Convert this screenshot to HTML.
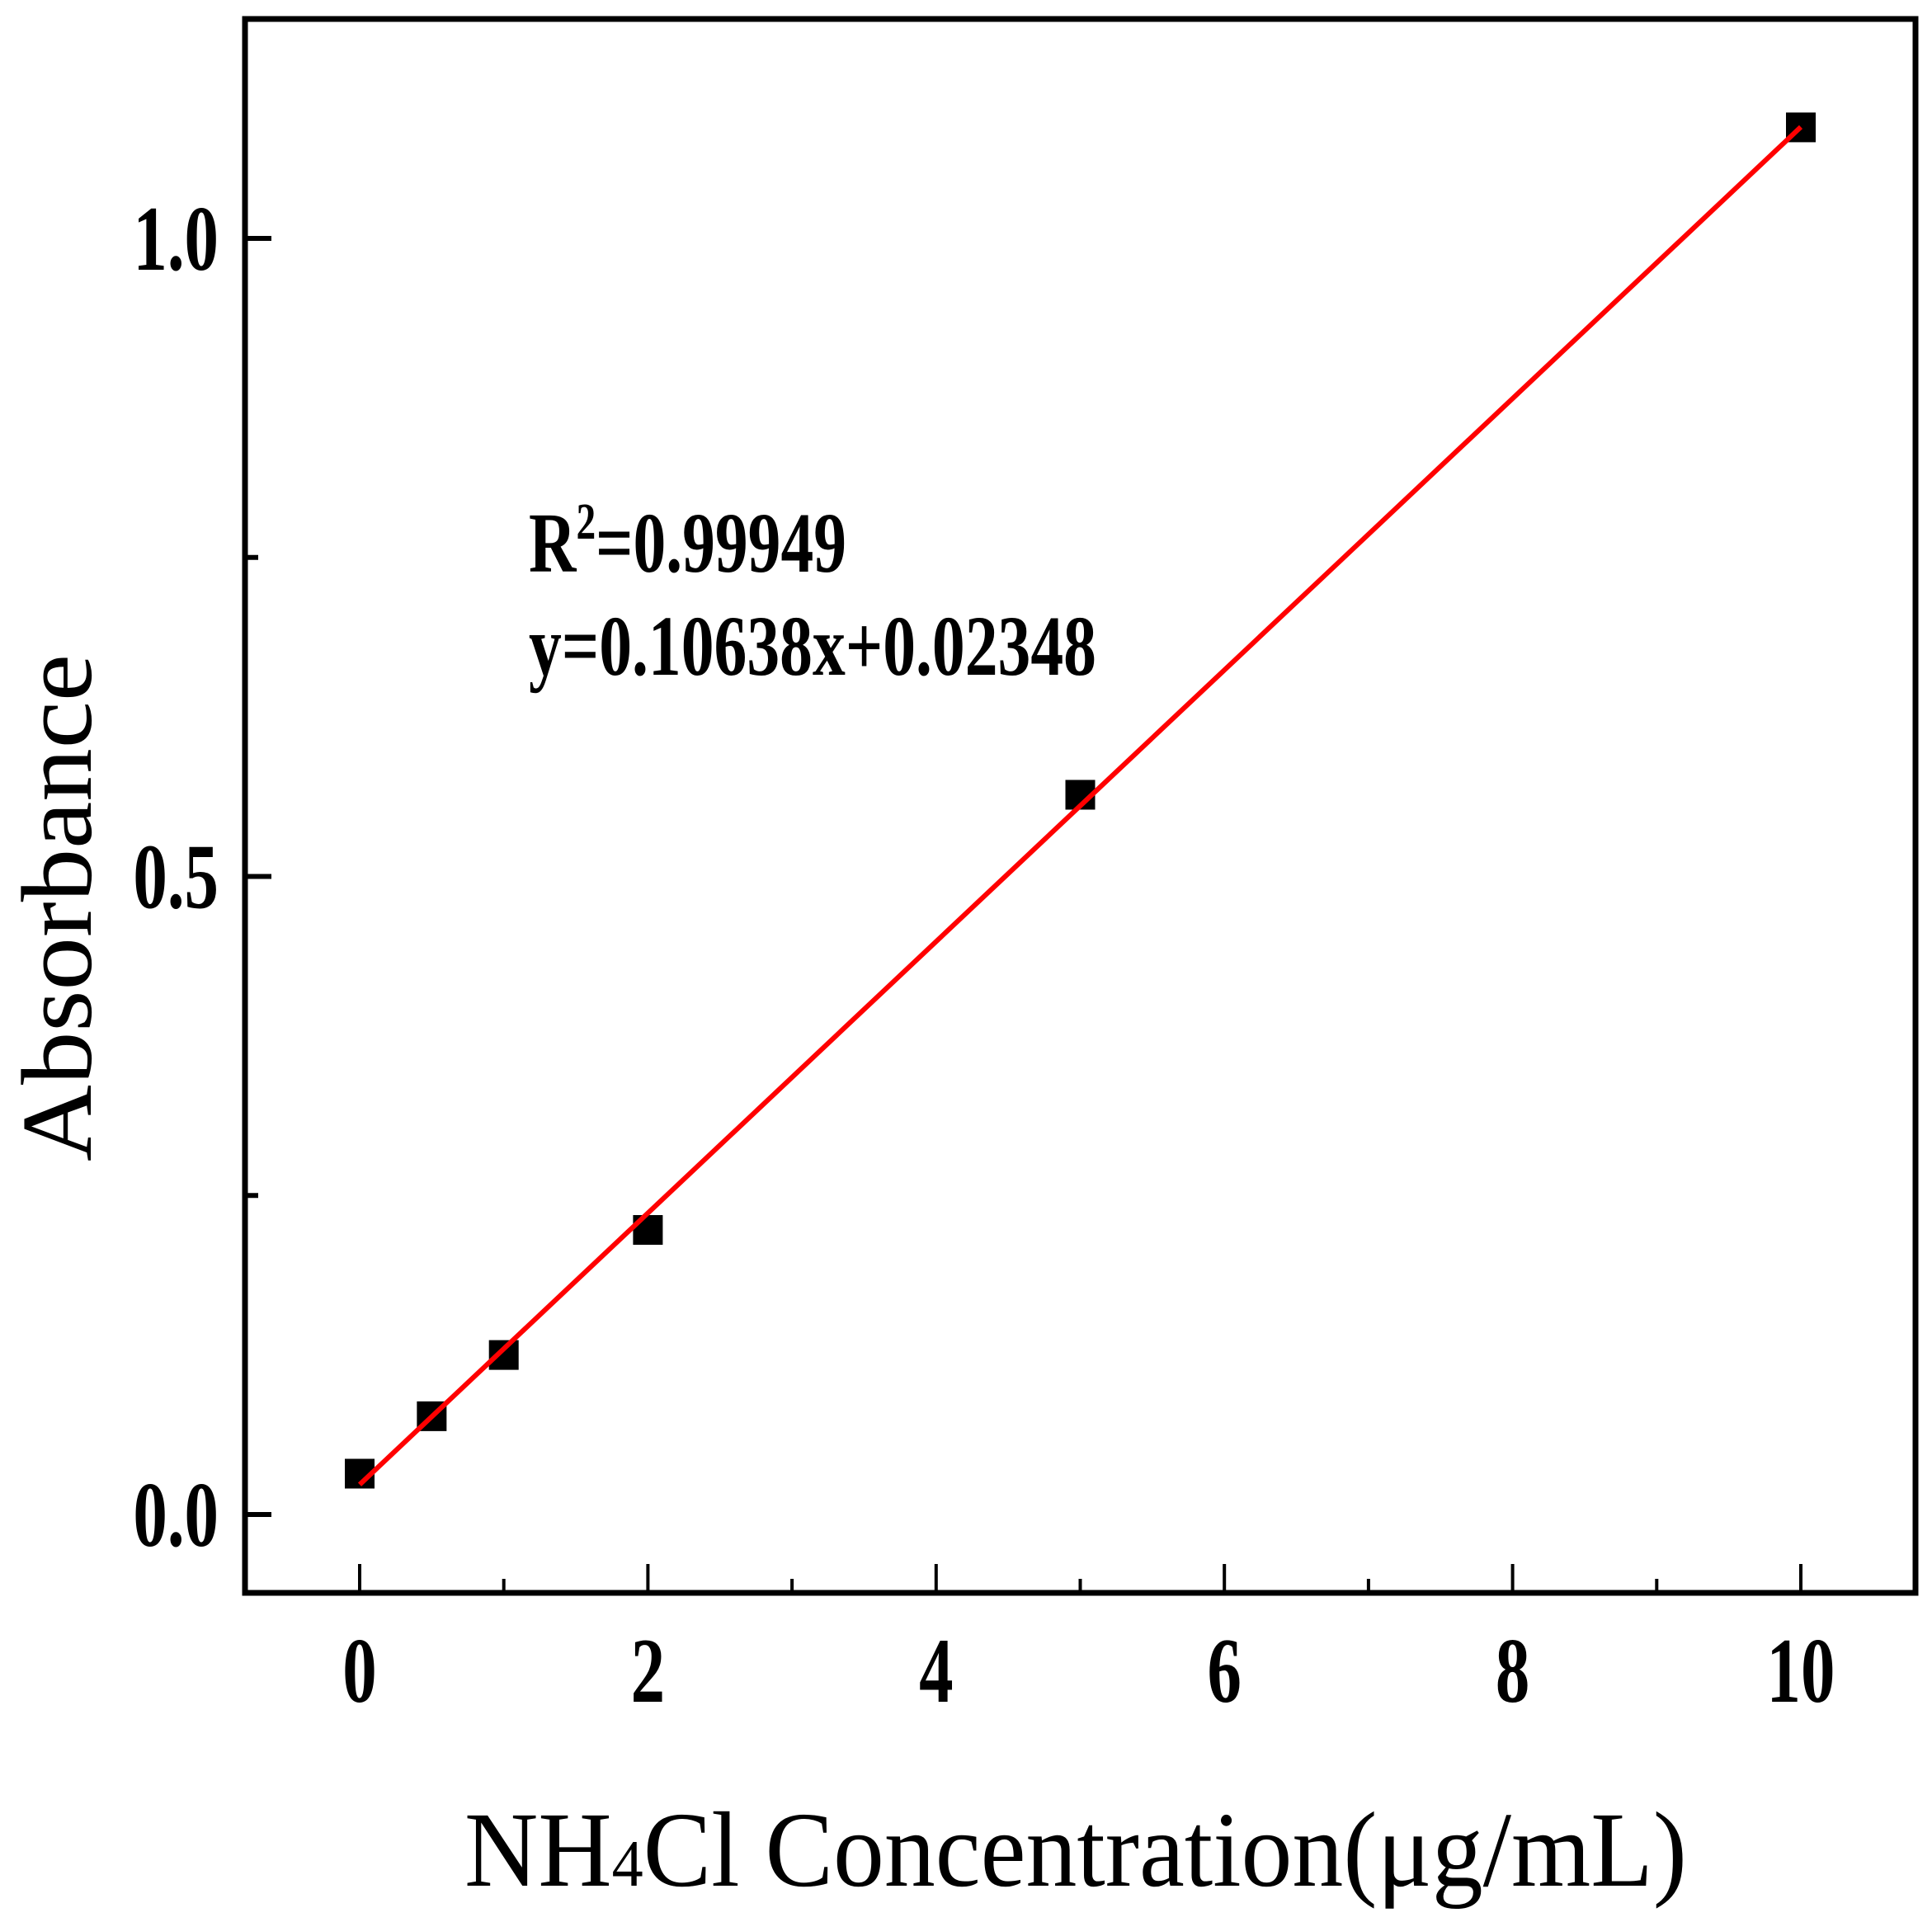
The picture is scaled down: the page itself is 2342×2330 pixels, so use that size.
<!DOCTYPE html>
<html><head><meta charset="utf-8"><style>html,body{margin:0;padding:0;background:#fff}svg{display:block}</style></head>
<body>
<svg id="chart" width="2342" height="2330" viewBox="0 0 2342 2330" xmlns="http://www.w3.org/2000/svg">
<rect x="0" y="0" width="2342" height="2330" fill="#fff"/>
<g id="plot"></g>
</svg>
<script>
const concentrations = [0, 0.5, 1, 2, 5, 10];
const absorbance = [0.032, 0.077, 0.125, 0.223, 0.564, 1.087];
const fitSlope = 0.10638;
const fitIntercept = 0.02348;
const xTicks = [0, 2, 4, 6, 8, 10];
const xTickLabels = ["0", "2", "4", "6", "8", "10"];
const xMinorTicks = [1, 3, 5, 7, 9];
const yTicks = [0, 0.5, 1.0];
const yTickLabels = ["0.0", "0.5", "1.0"];
const yMinorTicks = [0.25, 0.75];

const NS = "http://www.w3.org/2000/svg";
const L = 297, R = 2322, T = 23, B = 1931;
function xs(v){ return 436 + v * (2183 - 436) / 10; }
function ys(v){ return 1836 - v * 1547; }
const g = document.getElementById('plot');
function mk(tag, attrs){ const e = document.createElementNS(NS, tag); for (const k in attrs) e.setAttribute(k, attrs[k]); g.appendChild(e); return e; }

const frame = mk('rect', {x:L, y:T, width:R-L, height:B-T, fill:'none', stroke:'#000', 'stroke-width':7});



xTicks.forEach((v,i)=>{
  const t = mk('line', {x1:xs(v), x2:xs(v), y1:B, y2:B-35, stroke:'#000', 'stroke-width':4});
  
  
  const lb = mk('text', {x:xs(v), y:2063, 'text-anchor':'middle', 'font-family':'Liberation Serif, serif', 'font-weight':'bold', 'font-size':112, transform:`translate(${xs(v)},0) scale(0.74,1) translate(${-xs(v)},0)`});
  lb.textContent = xTickLabels[i];
  
  
});
xMinorTicks.forEach(v=>{
  const t = mk('line', {x1:xs(v), x2:xs(v), y1:B, y2:B-17, stroke:'#000', 'stroke-width':4});
  
  
});
yTicks.forEach((v,i)=>{
  const t = mk('line', {x1:L, x2:L+32, y1:ys(v), y2:ys(v), stroke:'#000', 'stroke-width':6});
  
  
  const lb = mk('text', {x:265, y:ys(v)+38, 'text-anchor':'end', 'font-family':'Liberation Serif, serif', 'font-weight':'bold', 'font-size':112, transform:`translate(265,0) scale(0.74,1) translate(-265,0)`});
  lb.textContent = yTickLabels[i];
  
  
});
yMinorTicks.forEach(v=>{
  const t = mk('line', {x1:L, x2:L+16, y1:ys(v), y2:ys(v), stroke:'#000', 'stroke-width':6});
  
  
});

concentrations.forEach((c,i)=>{
  const s = 36;
  const p = mk('rect', {x:xs(c)-s/2, y:ys(absorbance[i])-s/2, width:s, height:s, fill:'#000'});
  
  
});
const x0 = concentrations[0], x1 = concentrations[concentrations.length-1];
const fit = mk('line', {x1:xs(x0), y1:ys(fitSlope*x0+fitIntercept), x2:xs(x1), y2:ys(fitSlope*x1+fitIntercept), stroke:'#ff0000', 'stroke-width':6});



const a1 = mk('text', {x:641, y:693, 'font-family':'Liberation Serif, serif', 'font-weight':'bold', 'font-size':104, textLength:385, lengthAdjust:'spacingAndGlyphs'});
a1.innerHTML = 'R<tspan font-size="62" dy="-40">2</tspan><tspan dy="40">=0.99949</tspan>';


const a2 = mk('text', {x:641, y:818, 'font-family':'Liberation Serif, serif', 'font-weight':'bold', 'font-size':104, textLength:688, lengthAdjust:'spacingAndGlyphs'});
a2.textContent = 'y=0.10638x+0.02348';



const yt = mk('text', {x:0, y:0, 'font-family':'Liberation Serif, serif', 'font-size':122, textLength:615, lengthAdjust:'spacingAndGlyphs', transform:'translate(110,1408) rotate(-90)'});
yt.textContent = 'Absorbance';


const xt = mk('text', {x:563, y:2286, 'font-family':'Liberation Serif, serif', 'font-size':130, textLength:1482, lengthAdjust:'spacingAndGlyphs'});
xt.innerHTML = 'NH<tspan font-size="80">4</tspan>Cl Concentration(μg/mL)';


</script>
</body></html>
